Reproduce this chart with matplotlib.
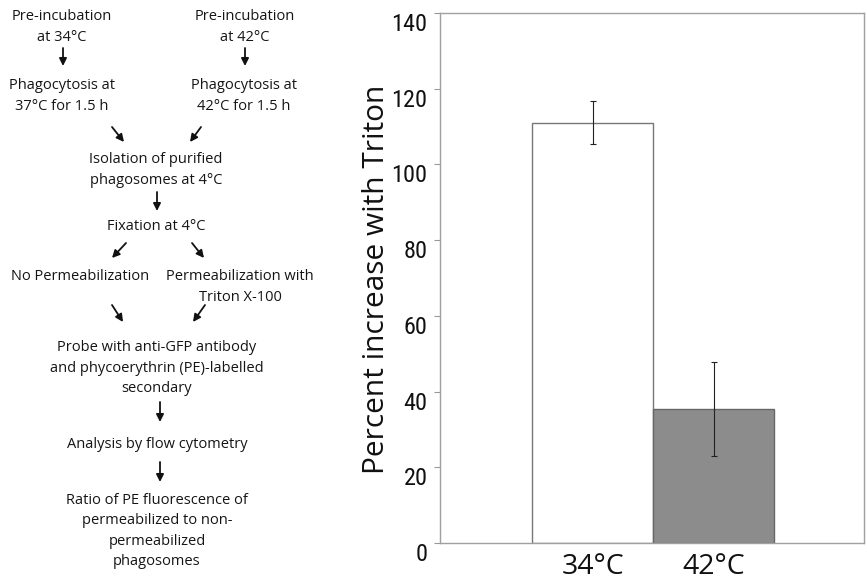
import matplotlib
matplotlib.use("Agg")
import matplotlib.pyplot as plt
import matplotlib.transforms as mtransforms

categories = ["34°C", "42°C"]
values = [111, 35.4]
errors = [5.7, 12.4]
bar_colors = ["#ffffff", "#8c8c8c"]
bar_edges = ["#777777", "#666666"]
y_ticks = [0, 20, 40, 60, 80, 100, 120, 140]

W, H = 867, 585
fig = plt.figure(figsize=(W / 100, H / 100), dpi=100)

# ── Bar chart ──────────────────────────────────────────────────────────────
ax = fig.add_axes([440 / W, 1 - 543 / H, 424 / W, 530 / H])
x = list(range(len(categories)))
ax.bar(x, values, width=1.0, color=bar_colors, edgecolor=bar_edges, linewidth=1.0, zorder=2)
ax.errorbar(x, values, yerr=errors, fmt="none", ecolor="#222222", elinewidth=0.8,
            capsize=2.5, capthick=0.8, zorder=3)
ax.set_xlim(-1.26, 2.24)
ax.set_ylim(0, 140)
ax.set_yticks(y_ticks)
ax.set_yticklabels([str(t) for t in y_ticks],
                   family=["Roboto Condensed", "Liberation Sans Narrow", "Liberation Sans"],
                   fontsize=17.5, color="#111111")
ax.set_xticks(x)
ax.set_xticklabels(categories, family=["Open Sans", "DejaVu Sans"], fontsize=20.5,
                   color="#111111")
ax.tick_params(axis="y", length=4, width=0.8, color="#999999", pad=5)
ax.tick_params(axis="x", length=0, pad=7)
for spine in ax.spines.values():
    spine.set_edgecolor("#a0a0a0")
    spine.set_linewidth(1.0)

# tick labels sit a little below their ticks in the original
shift = mtransforms.ScaledTranslation(0, -9 / 100, fig.dpi_scale_trans)
for lbl in ax.get_yticklabels():
    lbl.set_transform(lbl.get_transform() + shift)

fig.text(376 / W, 1 - 279 / H, "Percent increase with Triton", rotation=90,
         ha="center", va="center", fontsize=21.5, family=["Open Sans", "DejaVu Sans"],
         color="#111111")

# ── Flowchart ──────────────────────────────────────────────────────────────
fa = fig.add_axes([0, 0, 1, 1], zorder=-1)
fa.set_xlim(0, W)
fa.set_ylim(H, 0)
fa.axis("off")

FONT = dict(family=["Open Sans", "DejaVu Sans"], fontsize=10.5, color="#151515",
            ha="center", va="center", linespacing=1.5)

steps = [
    (62, 27, "Pre-incubation\nat 34°C"),
    (245, 27, "Pre-incubation\nat 42°C"),
    (62, 96, "Phagocytosis at\n37°C for 1.5 h"),
    (244, 96, "Phagocytosis at\n42°C for 1.5 h"),
    (156, 170, "Isolation of purified\nphagosomes at 4°C"),
    (156, 226, "Fixation at 4°C"),
    (80, 277, "No Permeabilization"),
    (240, 287, "Permeabilization with\nTriton X-100"),
    (157, 368, "Probe with anti-GFP antibody\nand phycoerythrin (PE)-labelled\nsecondary"),
    (157, 444, "Analysis by flow cytometry"),
    (157, 531, "Ratio of PE fluorescence of\npermeabilized to non-\npermeabilized\nphagosomes"),
]
for sx, sy, s in steps:
    fa.text(sx, sy, s, **FONT)

arrows = [
    ((63, 48), (63, 66)), ((245, 48), (245, 66)),
    ((112, 127), (124, 142)), ((201, 127), (190, 142)),
    ((157, 192), (157, 211)),
    ((126, 243), (112, 258)), ((192, 243), (204, 258)),
    ((112, 305), (123, 322)), ((205, 305), (193, 322)),
    ((160, 402), (160, 422)),
    ((160, 462), (160, 482)),
]
for (x0, y0), (x1, y1) in arrows:
    fa.annotate("", xy=(x1, y1), xytext=(x0, y0),
                arrowprops=dict(arrowstyle="-|>", color="#111111", lw=1.3,
                                mutation_scale=11, shrinkA=0, shrinkB=0))

fig.savefig("out.png", dpi=100)
